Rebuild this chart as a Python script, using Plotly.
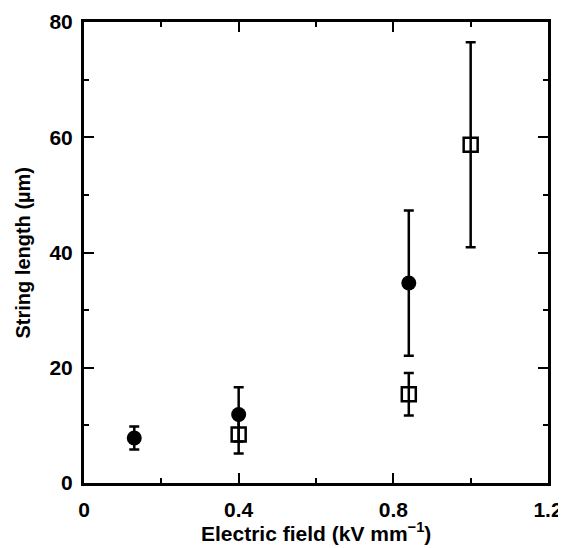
import plotly.graph_objects as go

# filled circles
campo_c = [0.13, 0.40, 0.84]
comp_c = [7.8, 11.9, 34.7]
erro_c = [2.0, 4.7, 12.6]

# open squares
campo_q = [0.40, 0.84, 1.00]
comp_q = [8.4, 15.4, 58.7]
erro_q = [3.3, 3.7, 17.8]

x_ticks = [0, 0.4, 0.8, 1.2]
y_ticks = [0, 20, 40, 60, 80]

fonte_ticks = dict(family="Liberation Sans, Arial", size=21, color="black", weight=700)
fonte_titulo = dict(family="Liberation Sans, Arial", size=20, color="black", weight=700)

fig = go.Figure()

fig.add_trace(go.Scatter(
    x=campo_c, y=comp_c, mode="markers",
    marker=dict(symbol="circle", size=15, color="black"),
    error_y=dict(type="data", array=erro_c, color="black", thickness=2.5, width=5),
    showlegend=False
))

fig.add_trace(go.Scatter(
    x=campo_q, y=comp_q, mode="markers",
    marker=dict(symbol="square-open", size=14, color="black", line=dict(width=2.5)),
    error_y=dict(type="data", array=erro_q, color="black", thickness=2.5, width=5),
    showlegend=False
))

eixo = dict(
    showline=True, linewidth=3, linecolor="black", mirror="ticks",
    ticks="inside", ticklen=10, tickwidth=2, tickcolor="black",
    showgrid=False, zeroline=False, tickfont=fonte_ticks,
    automargin=False, ticklabeloverflow="allow",
)

fig.update_xaxes(
    **eixo, range=[0, 1.2], tickvals=x_ticks, ticktext=["0", "0.4", "0.8", "1.2"],
    ticklabelstandoff=6,
    minor=dict(ticks="inside", ticklen=5, tickwidth=2, tickcolor="black", dtick=0.2, tick0=0),
)
fig.update_yaxes(
    **eixo, range=[0, 80], tickvals=y_ticks,
    ticklabelstandoff=4,
    minor=dict(ticks="inside", ticklen=5, tickwidth=2, tickcolor="black", dtick=10, tick0=0),
)

# titulos dos eixos como anotacoes para controlar a posicao
fig.add_annotation(
    text="Electric field (kV mm<sup>−1</sup>)", font={**fonte_titulo, "size": 21}, showarrow=False,
    xref="paper", yref="paper", x=0.5, y=0, xanchor="center", yanchor="middle", yshift=-49,
)
fig.add_annotation(
    text="String length (µm)", font=fonte_titulo, showarrow=False, textangle=-90,
    xref="paper", yref="paper", x=0, y=0.5, xanchor="center", yanchor="middle", xshift=-62,
)

# a pagina desloca a figura 8px (margem do body), por isso 558x540
fig.update_layout(
    width=558, height=540,
    margin=dict(l=76, r=18, t=14, b=65),
    plot_bgcolor="white", paper_bgcolor="white",
)

fig.write_html("out.html")
